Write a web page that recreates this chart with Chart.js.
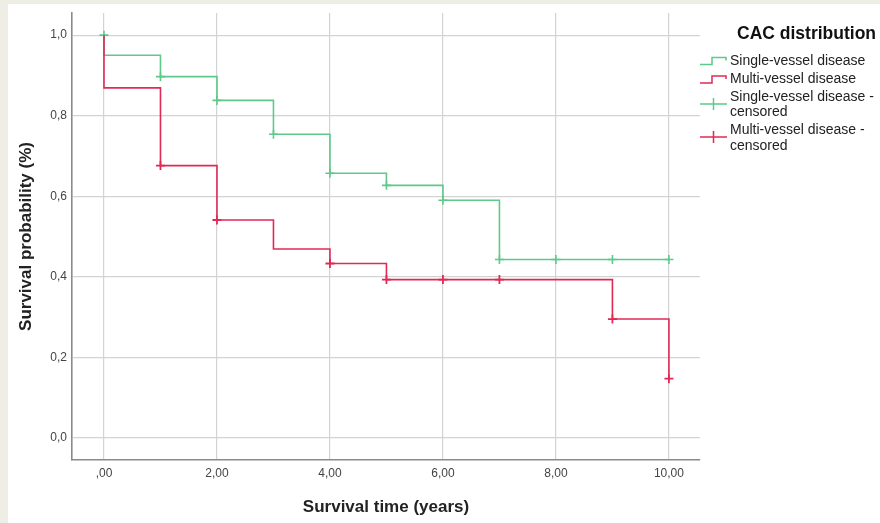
<!DOCTYPE html>
<html>
<head>
<meta charset="utf-8">
<script src="https://cdn.jsdelivr.net/npm/chart.js@4.4.1/dist/chart.umd.min.js"></script>
<style>
  html, body { margin: 0; padding: 0; background: #eeeee5; }
  #wrap {
    position: absolute; left: 8px; top: 4px;
    width: 872px; height: 519px; background: #fff;
  }
</style>
</head>
<body>
<div id="wrap"><canvas id="km-chart"></canvas></div>
<script>
// Kaplan-Meier step points (time in years, survival probability)
const singleTimes = [0, 0, 1, 2, 3, 4, 5, 6, 7, 10];
const singleSurv = [1.0, 0.95, 0.897, 0.838, 0.754, 0.657, 0.627, 0.59, 0.443, 0.443];
const multiTimes = [0, 0, 1, 2, 3, 4, 5, 9, 10];
const multiSurv = [1.0, 0.869, 0.676, 0.541, 0.469, 0.433, 0.393, 0.295, 0.147];

// censored observations
const singleCensTimes = [0, 1, 2, 3, 4, 5, 6, 7, 8, 9, 10];
const singleCensSurv = [1.0, 0.897, 0.838, 0.754, 0.657, 0.627, 0.59, 0.443, 0.443, 0.443, 0.443];
const multiCensTimes = [1, 2, 4, 5, 6, 7, 9, 10];
const multiCensSurv = [0.676, 0.541, 0.433, 0.393, 0.393, 0.393, 0.295, 0.147];

const xTickValues = [0, 2, 4, 6, 8, 10];
const xTickLabels = [',00', '2,00', '4,00', '6,00', '8,00', '10,00'];
const yTickValues = [0, 0.2, 0.4, 0.6, 0.8, 1.0];
const yTickLabels = ['0,0', '0,2', '0,4', '0,6', '0,8', '1,0'];

const legendTitle = 'CAC distribution';
const legendItems = [
    ['Single-vessel disease'],
    ['Multi-vessel disease'],
    ['Single-vessel disease -', 'censored'],
    ['Multi-vessel disease -', 'censored']
];

const green = '#5ec98a';
const red = '#e02a55';
const fontFamily = '"Liberation Sans", Arial, sans-serif';

function toPoints(xs, ys) {
    return xs.map((x, i) => ({ x: x, y: ys[i] }));
}

// draws the SPSS-style legend to the right of the plot
const kmLegend = {
    id: 'kmLegend',
    afterDraw(chart) {
        const ctx = chart.ctx;
        const iconLeft = 692;
        const iconRight = 719;
        const textLeft = 722;
        const colors = [green, red, green, red];
        const rows = [[57], [75.5], [93.5, 108], [126, 142]];
        const crossY = [0, 0, 100, 133];

        ctx.save();
        ctx.fillStyle = '#111';
        ctx.textBaseline = 'middle';
        ctx.font = 'bold 17.5px ' + fontFamily;
        ctx.fillText(legendTitle, 729, 30);

        ctx.font = '14px ' + fontFamily;
        legendItems.forEach((lines, i) => {
            ctx.fillStyle = '#222';
            lines.forEach((txt, j) => ctx.fillText(txt, textLeft, rows[i][j]));

            ctx.strokeStyle = colors[i];
            ctx.lineWidth = 1.5;
            ctx.beginPath();
            if (i < 2) {
                const cy = rows[i][0];
                ctx.moveTo(iconLeft, cy + 3.5);
                ctx.lineTo(iconLeft + 12, cy + 3.5);
                ctx.lineTo(iconLeft + 12, cy - 3.5);
                ctx.lineTo(iconRight - 1, cy - 3.5);
                ctx.lineTo(iconRight - 1, cy - 0.5);
            } else {
                const cy = crossY[i];
                ctx.moveTo(iconLeft, cy);
                ctx.lineTo(iconRight, cy);
                ctx.moveTo(iconLeft + 13.5, cy - 6);
                ctx.lineTo(iconLeft + 13.5, cy + 6);
            }
            ctx.stroke();
        });
        ctx.restore();
    }
};

const ctx = document.getElementById('km-chart').getContext('2d');

new Chart(ctx, {
    type: 'scatter',
    data: {
        datasets: [
            {
                label: 'Multi-vessel disease',
                data: toPoints(multiTimes, multiSurv),
                showLine: true,
                stepped: true,
                borderColor: red,
                borderWidth: 1.6,
                pointRadius: 0
            },
            {
                label: 'Single-vessel disease',
                data: toPoints(singleTimes, singleSurv),
                showLine: true,
                stepped: true,
                borderColor: green,
                borderWidth: 1.6,
                pointRadius: 0
            },
            {
                label: 'Single-vessel disease - censored',
                data: toPoints(singleCensTimes, singleCensSurv),
                showLine: false,
                pointStyle: 'cross',
                pointRadius: 4.5,
                borderColor: green,
                pointBorderWidth: 1.6
            },
            {
                label: 'Multi-vessel disease - censored',
                data: toPoints(multiCensTimes, multiCensSurv),
                showLine: false,
                pointStyle: 'cross',
                pointRadius: 4.5,
                borderColor: red,
                pointBorderWidth: 1.8
            }
        ]
    },
    options: {
        responsive: true,
        maintainAspectRatio: false,
        animation: false,
        layout: {
            padding: { left: 0, top: 9, right: 180, bottom: 0 }
        },
        plugins: {
            legend: { display: false },
            tooltip: { enabled: false }
        },
        scales: {
            x: {
                type: 'linear',
                min: -0.566,
                max: 10.55,
                afterBuildTicks: (scale) => {
                    scale.ticks = xTickValues.map(v => ({ value: v }));
                },
                afterFit: (scale) => { scale.height = 63; },
                ticks: {
                    autoSkip: false,
                    maxRotation: 0,
                    padding: 6,
                    color: '#444',
                    font: { family: fontFamily, size: 12 },
                    callback: (value) => xTickLabels[xTickValues.indexOf(value)]
                },
                grid: { color: '#d3d3d3', lineWidth: 1.2, drawTicks: false },
                border: { color: '#8a8a8a', width: 1.6 },
                title: {
                    display: true,
                    text: 'Survival time (years)',
                    color: '#222',
                    font: { family: fontFamily, size: 17, weight: 'bold' },
                    padding: { top: 0, bottom: 5 }
                }
            },
            y: {
                type: 'linear',
                min: -0.055,
                max: 1.055,
                afterBuildTicks: (scale) => {
                    scale.ticks = yTickValues.map(v => ({ value: v }));
                },
                afterFit: (scale) => {
                    scale.width = 64;
                    // tick labels sit well inside the range, no extra room needed
                    scale.paddingTop = 0;
                    scale.paddingBottom = 0;
                },
                ticks: {
                    padding: 5,
                    color: '#444',
                    font: { family: fontFamily, size: 12 },
                    callback: (value) => yTickLabels[yTickValues.indexOf(value)]
                },
                grid: { color: '#d3d3d3', lineWidth: 1.2, drawTicks: false },
                border: { color: '#8a8a8a', width: 1.6 },
                title: {
                    display: true,
                    text: 'Survival probability (%)',
                    color: '#222',
                    font: { family: fontFamily, size: 17, weight: 'bold' },
                    padding: { top: 8, bottom: 0 }
                }
            }
        }
    },
    plugins: [kmLegend]
});
</script>
</body>
</html>
